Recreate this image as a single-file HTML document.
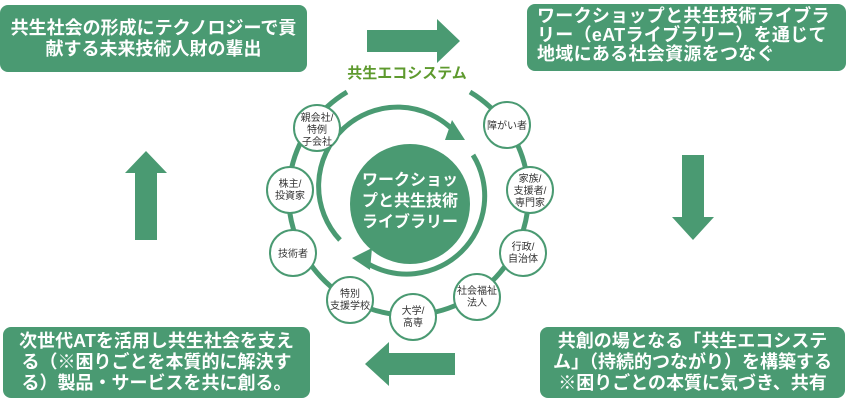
<!DOCTYPE html>
<html><head><meta charset="utf-8"><style>
html,body{margin:0;padding:0;background:#fff;}
body{width:849px;height:405px;overflow:hidden;position:relative;font-family:"Liberation Sans","Noto Sans CJK JP",sans-serif;}
.box{position:absolute;background:#4a9a72;color:#fff;font-weight:bold;border-radius:8px;font-size:18px;box-sizing:border-box;white-space:nowrap;}
.box div{height:21px;line-height:21px;}
</style></head><body>
<div class="box" style="left:0;top:5px;width:307px;height:67px;padding:13px 0 0 0;text-align:center;"><div>共生社会の形成にテクノロジーで貢</div><div>献する未来技術人財の輩出</div></div>
<div class="box" style="left:527px;top:4px;width:319px;height:67px;padding:3px 0 0 10px;letter-spacing:0.3px;"><div style="height:19px;line-height:19px">ワークショップと共生技術ライブラ</div><div style="height:19px;line-height:19px">リー（eATライブラリー）を通じて</div><div style="height:19px;line-height:19px">地域にある社会資源をつなぐ</div></div>
<div class="box" style="left:3px;top:327px;width:307px;height:71px;padding:4px 0 0 0;text-align:center;"><div>次世代ATを活用し共生社会を支え</div><div>る（※困りごとを本質的に解決す</div><div>る）製品・サービスを共に創る。</div></div>
<div class="box" style="left:540px;top:327px;width:305px;height:71px;padding:4px 0 0 0;text-align:center;"><div>共創の場となる「共生エコシステ</div><div>ム」（持続的つながり）を構築する</div><div>※困りごとの本質に気づき、共有</div></div>
<svg width="849" height="405" style="position:absolute;left:0;top:0;" xmlns="http://www.w3.org/2000/svg">
<g fill="#4a9a72">
<polygon points="146,151 167,173 157,173 157,240 135,240 135,173 125,173"/>
<polygon points="460,41 437,19 437,30 367,30 367,52 437,52 437,63"/>
<polygon points="693,240 714,217 704,217 704,155 682,155 682,217 672,217"/>
<polygon points="365,364 389,342 389,353 455,353 455,375 389,375 389,386"/>
</g>
<text x="407" y="78" text-anchor="middle" font-size="15" font-weight="bold" fill="#5e9a2e" font-family="Liberation Sans,Noto Sans CJK JP,sans-serif">共生エコシステム</text>
<g stroke="#4a9a72" stroke-width="5" fill="none">
<path d="M347,92 A120,120 0 1 0 470,92"/>
<path d="M340,240 A78,78 0 0 1 455,132"/>
<path d="M473,155 A78,78 0 0 1 365,262"/>
</g>
<polygon points="465,140 452,120 445,140" fill="#4a9a72"/>
<polygon points="352,258 372,248 370,270" fill="#4a9a72"/>
<circle cx="410" cy="204" r="60" fill="#4a9a72"/>
<g fill="#fff" font-size="16" font-weight="bold" text-anchor="middle" font-family="Liberation Sans,Noto Sans CJK JP,sans-serif">
<text x="410" y="185">ワークショッ</text>
<text x="410" y="206">プと共生技術</text>
<text x="410" y="227">ライブラリー</text>
</g>
<g fill="#fff" stroke="#4a9a72" stroke-width="2">
<circle cx="317" cy="128" r="23"/><circle cx="507" cy="125" r="23"/>
<circle cx="530" cy="190" r="23"/><circle cx="523" cy="253" r="23"/>
<circle cx="477" cy="297" r="23"/><circle cx="413" cy="317" r="23"/>
<circle cx="350" cy="300" r="23"/><circle cx="293" cy="253" r="23"/>
<circle cx="290" cy="190" r="23"/>
</g>
<g fill="#333" font-size="10" text-anchor="middle" font-family="Liberation Sans,Noto Sans CJK JP,sans-serif">
<text x="317" y="121">親会社/</text><text x="317" y="133">特例</text><text x="317" y="145">子会社</text>
<text x="507" y="129">障がい者</text>
<text x="530" y="182">家族/</text><text x="530" y="194">支援者/</text><text x="530" y="206">専門家</text>
<text x="523" y="250">行政/</text><text x="523" y="262">自治体</text>
<text x="477" y="294">社会福祉</text><text x="477" y="306">法人</text>
<text x="413" y="314">大学/</text><text x="413" y="326">高専</text>
<text x="350" y="297">特別</text><text x="350" y="309">支援学校</text>
<text x="293" y="257">技術者</text>
<text x="290" y="187">株主/</text><text x="290" y="199">投資家</text>
</g>
</svg>
</body></html>
